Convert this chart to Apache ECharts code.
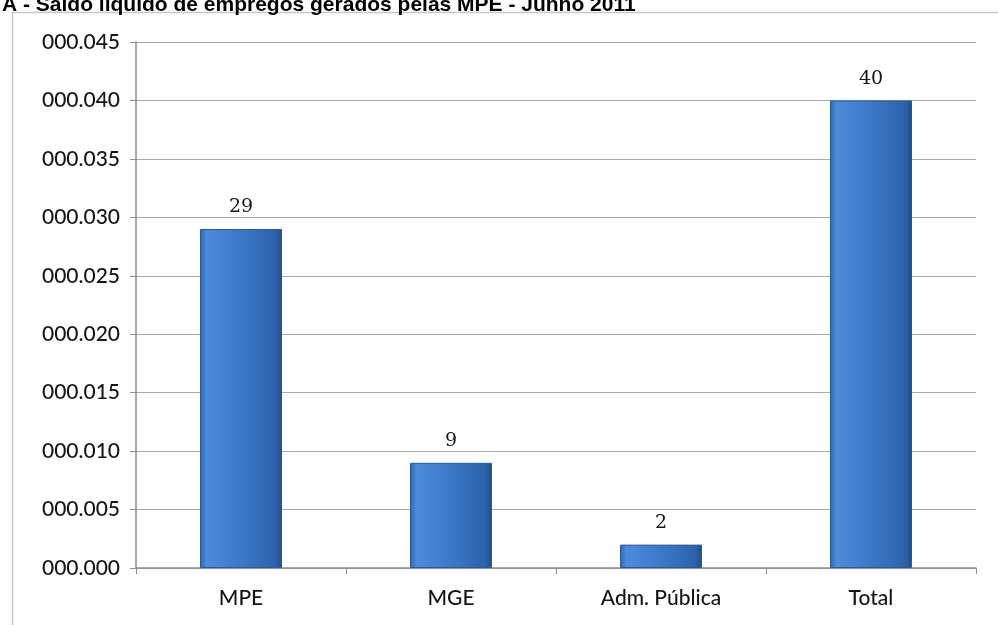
<!DOCTYPE html>
<html><head><meta charset="utf-8">
<script src="https://cdn.jsdelivr.net/npm/echarts@6/dist/echarts.min.js"></script>
<style>html,body{margin:0;padding:0;background:#fff}#c{width:998px;height:625px}</style>
</head><body><div id="c"></div>
<script>
var titleText = 'A - Saldo líquido de empregos gerados pelas MPE - Junho 2011';
var categories = ['MPE', 'MGE', 'Adm. Pública', 'Total'];
var values = [29, 9, 2, 40];
var yMax = 45, yInterval = 5;
function fmt(v){ var s = String(Math.round(v)); while (s.length < 3) s = '0' + s; return '000.' + s; }
var chart = echarts.init(document.getElementById('c'));
chart.setOption({
  animation: false,
  backgroundColor: '#fff',
  graphic: [
    {type:'rect', shape:{x:12.5,y:12.5,width:990,height:620}, style:{fill:'none', stroke:'#c8c8c8', lineWidth:1.5}, z:-1},
    {type:'text', left:2, top:-5, style:{text:titleText, font:'bold 21px "Liberation Sans", Arial', fill:'#000'}}
  ],
  grid: {left:136, right:22, top:42, bottom:57},
  xAxis: {
    type:'category', data:categories,
    axisLine:{lineStyle:{color:'#8c8c8c', width:1.5}},
    axisTick:{show:true, length:6, lineStyle:{color:'#8c8c8c'}},
    axisLabel:{color:'#151515', fontFamily:'Lato', fontSize:21, fontWeight:500, margin:20}
  },
  yAxis: {
    type:'value', min:0, max:yMax, interval:yInterval,
    axisLine:{show:true, lineStyle:{color:'#8c8c8c', width:1.5}},
    axisTick:{show:true, length:6, lineStyle:{color:'#8c8c8c'}},
    splitLine:{lineStyle:{color:'#a8a8a8', width:1.2}},
    axisLabel:{color:'#151515', fontFamily:'Lato', fontSize:21, fontWeight:500, margin:16, formatter:fmt}
  },
  series: [{
    type:'bar', data:values, barWidth:82,
    itemStyle:{
      color: new echarts.graphic.LinearGradient(0,0,1,0,[
        {offset:0,color:'#2c66b4'},{offset:0.08,color:'#4d8cda'},{offset:0.5,color:'#3b79c8'},{offset:0.92,color:'#2c62ab'},{offset:1,color:'#1f4c8c'}
      ]),
      borderColor:'#2a5a9c', borderWidth:1
    },
    label:{show:true, position:'top', distance:12, color:'#151515', fontFamily:'DejaVu Serif', fontSize:19}
  }]
});
</script></body></html>
